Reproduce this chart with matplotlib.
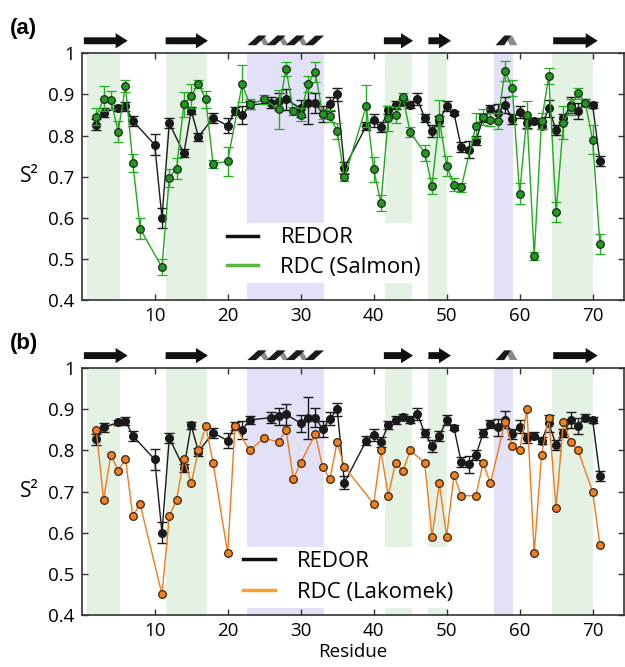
import matplotlib.pyplot as plt
import matplotlib.transforms as mtransforms
from matplotlib.patches import Polygon
from matplotlib.lines import Line2D
import numpy as np

plt.rcParams['font.family'] = ['Open Sans', 'DejaVu Sans']

# REDOR order parameters
redor_res = [2, 3, 5, 6, 7, 10, 11, 12, 14, 15, 16, 18, 20, 21, 22, 23, 26, 27, 28,
             30, 31, 32, 33, 34, 35, 36, 39, 40, 41, 42, 43, 44, 45, 46, 47, 48, 49,
             50, 51, 52, 53, 54, 55, 56, 57, 58, 59, 60, 61, 62, 63, 64, 65, 66, 67,
             68, 69, 70, 71]
redor_s2 = [0.827, 0.856, 0.868, 0.871, 0.836, 0.778, 0.600, 0.830, 0.757, 0.861,
            0.797, 0.843, 0.824, 0.860, 0.850, 0.874, 0.880, 0.883, 0.888, 0.866,
            0.879, 0.880, 0.852, 0.877, 0.900, 0.722, 0.824, 0.837, 0.820, 0.862,
            0.874, 0.882, 0.875, 0.889, 0.842, 0.811, 0.836, 0.873, 0.855, 0.772,
            0.766, 0.788, 0.842, 0.864, 0.856, 0.875, 0.840, 0.858, 0.830, 0.836,
            0.824, 0.866, 0.813, 0.842, 0.874, 0.860, 0.880, 0.874, 0.738]
redor_err = [0.013, 0.010, 0.007, 0.010, 0.012, 0.025, 0.025, 0.012, 0.010, 0.008,
             0.010, 0.012, 0.018, 0.010, 0.022, 0.010, 0.014, 0.020, 0.026, 0.020,
             0.050, 0.024, 0.020, 0.016, 0.016, 0.015, 0.010, 0.015, 0.012, 0.010,
             0.010, 0.006, 0.008, 0.015, 0.010, 0.015, 0.012, 0.012, 0.006, 0.012,
             0.020, 0.012, 0.010, 0.010, 0.020, 0.020, 0.012, 0.015, 0.012, 0.008,
             0.008, 0.020, 0.012, 0.010, 0.020, 0.020, 0.008, 0.008, 0.012]

# RDC (Salmon)
salmon_res = [2, 3, 4, 5, 6, 7, 8, 11, 12, 13, 14, 15, 16, 17, 18, 20, 22, 23, 25,
              27, 28, 29, 30, 31, 32, 33, 34, 35, 36, 39, 40, 41, 42, 43, 44, 45,
              47, 48, 49, 50, 51, 52, 54, 55, 56, 57, 58, 59, 60, 61, 62, 63, 64,
              65, 66, 67, 68, 69, 70, 71]
salmon_s2 = [0.846, 0.890, 0.886, 0.810, 0.920, 0.734, 0.574, 0.480, 0.698, 0.720,
             0.876, 0.896, 0.926, 0.888, 0.731, 0.738, 0.926, 0.876, 0.888, 0.864,
             0.962, 0.860, 0.851, 0.926, 0.955, 0.853, 0.848, 0.811, 0.699, 0.872,
             0.718, 0.636, 0.842, 0.850, 0.894, 0.808, 0.758, 0.678, 0.842, 0.726,
             0.681, 0.674, 0.824, 0.845, 0.839, 0.836, 0.957, 0.916, 0.659, 0.850,
             0.507, 0.835, 0.945, 0.614, 0.831, 0.870, 0.903, 0.880, 0.790, 0.536]
salmon_err = [0.020, 0.030, 0.022, 0.025, 0.015, 0.022, 0.025, 0.020, 0.022, 0.025,
              0.030, 0.030, 0.010, 0.020, 0.010, 0.035, 0.045, 0.012, 0.010, 0.048,
              0.018, 0.010, 0.015, 0.020, 0.025, 0.012, 0.015, 0.020, 0.010, 0.050,
              0.030, 0.020, 0.030, 0.020, 0.010, 0.012, 0.020, 0.020, 0.045, 0.025,
              0.015, 0.010, 0.030, 0.020, 0.015, 0.020, 0.025, 0.020, 0.025, 0.035,
              0.010, 0.020, 0.020, 0.025, 0.040, 0.020, 0.013, 0.010, 0.035, 0.025]

# RDC (Lakomek)
lakomek_res = [2, 3, 4, 5, 6, 7, 8, 11, 12, 13, 14, 15, 16, 17, 18, 20, 21, 23, 25,
               27, 28, 29, 30, 32, 33, 34, 35, 36, 40, 41, 42, 43, 44, 45, 47, 48,
               49, 50, 51, 52, 54, 55, 56, 58, 59, 60, 61, 62, 63, 64, 65, 66, 67,
               68, 70, 71]
lakomek_s2 = [0.85, 0.68, 0.79, 0.75, 0.78, 0.64, 0.67, 0.45, 0.64, 0.68, 0.78, 0.72,
              0.80, 0.86, 0.77, 0.55, 0.86, 0.80, 0.83, 0.82, 0.85, 0.73, 0.77, 0.84,
              0.76, 0.73, 0.82, 0.76, 0.67, 0.80, 0.69, 0.77, 0.75, 0.80, 0.77, 0.59,
              0.72, 0.59, 0.74, 0.69, 0.69, 0.77, 0.72, 0.87, 0.81, 0.80, 0.90, 0.55,
              0.79, 0.88, 0.66, 0.87, 0.82, 0.80, 0.70, 0.57]

# secondary structure (residue ranges)
strands = [(0.3, 6.3), (11.5, 17.3), (41.4, 45.4), (47.5, 50.6), (64.6, 70.7)]
helices = [(22.7, 33.2)]
turns = [(56.7, 59.7)]
green_bands = [(0.7, 5.3), (11.6, 17.2), (41.6, 45.2), (47.5, 50.1), (64.4, 70.0)]
blue_bands = [(22.7, 33.2), (56.5, 59.1)]


def draw_strand(ax, x0, x1):
    tr = mtransforms.blended_transform_factory(ax.transData, ax.transAxes)
    yc, bw, hw, hl = 1.051, 0.014, 0.031, 1.65
    pts = [(x0, yc - bw), (x1 - hl, yc - bw), (x1 - hl, yc - hw), (x1, yc),
           (x1 - hl, yc + hw), (x1 - hl, yc + bw), (x0, yc + bw)]
    ax.add_patch(Polygon(pts, closed=True, transform=tr, fc='#111111', ec='none',
                         clip_on=False))


def draw_helix(ax, x0, x1, n):
    tr = mtransforms.blended_transform_factory(ax.transData, ax.transAxes)
    yb, yt = 1.033, 1.072
    w = (x1 - x0) / n
    for i in range(n):
        s = x0 + i * w
        # gray back strand
        g = [(s + 0.55 * w, yt), (s + 0.85 * w, yt), (s + 1.15 * w, yb), (s + 0.85 * w, yb)]
        if i < n - 1:
            ax.add_patch(Polygon(g, closed=True, transform=tr, fc='#8a8a8a', ec='none',
                                 clip_on=False))
        b = [(s, yb), (s + 0.45 * w, yb), (s + w, yt), (s + 0.55 * w, yt)]
        ax.add_patch(Polygon(b, closed=True, transform=tr, fc='#1a1a1a', ec='none',
                             clip_on=False))


def draw_turn(ax, x0, x1):
    tr = mtransforms.blended_transform_factory(ax.transData, ax.transAxes)
    yb, yt = 1.033, 1.072
    w = x1 - x0
    g = [(x0 + 0.45 * w, yt), (x0 + 0.75 * w, yt), (x1, yb), (x0 + 0.65 * w, yb)]
    ax.add_patch(Polygon(g, closed=True, transform=tr, fc='#8a8a8a', ec='none',
                         clip_on=False))
    b = [(x0, yb), (x0 + 0.4 * w, yb), (x0 + 0.7 * w, yt), (x0 + 0.4 * w, yt)]
    ax.add_patch(Polygon(b, closed=True, transform=tr, fc='#1a1a1a', ec='none',
                         clip_on=False))


def setup(ax):
    for a, b in green_bands:
        ax.axvspan(a, b, color='#e3f2e3', lw=0, zorder=0)
    for a, b in blue_bands:
        ax.axvspan(a, b, color='#e2e1f7', lw=0, zorder=0)
    for a, b in strands:
        draw_strand(ax, a, b)
    for a, b in helices:
        draw_helix(ax, a, b, 4)
    for a, b in turns:
        draw_turn(ax, a, b)
    ax.set_xlim(0, 74.3)
    ax.set_ylim(0.4, 1.0)
    ax.set_xticks([10, 20, 30, 40, 50, 60, 70])
    ax.set_yticks([0.4, 0.5, 0.6, 0.7, 0.8, 0.9, 1.0])
    ax.set_yticklabels(['0.4', '0.5', '0.6', '0.7', '0.8', '0.9', '1'])
    ax.tick_params(direction='in', top=True, right=True, length=4, width=1,
                   labelsize=13.5, color='#333333', pad=5)
    for sp in ax.spines.values():
        sp.set_linewidth(1.2)
        sp.set_color('#333333')
    ax.set_ylabel('S²', fontsize=15, rotation=0, labelpad=14, va='center')


def plot_redor(ax):
    ax.errorbar(redor_res, redor_s2, yerr=redor_err, fmt='-o', color='#1a1a1a',
                ecolor='#1a1a1a', lw=1, elinewidth=1, capsize=3.5, capthick=1,
                ms=5.5, mfc='#1a1a1a', mec='#1a1a1a', zorder=3)


fig = plt.figure(figsize=(6.25, 6.67), dpi=100)
ax1 = fig.add_axes([0.1307, 0.550, 0.8677, 0.370])
ax2 = fig.add_axes([0.1307, 0.078, 0.8677, 0.370])

# (a)
setup(ax1)
plot_redor(ax1)
ax1.errorbar(salmon_res, salmon_s2, yerr=salmon_err, fmt='-o', color='#22a81e',
             ecolor='#22b01e', lw=1, elinewidth=1, capsize=3.5, capthick=1,
             ms=5.5, mfc='#1f9a1c', mec='#1c2a1c', mew=0.9, zorder=4)
h1 = [Line2D([], [], color='#111111', lw=2.5), Line2D([], [], color='#5cb83c', lw=2.5)]
ax1.legend(h1, ['REDOR', 'RDC (Salmon)'], loc='upper left', bbox_to_anchor=(0.26, 0.313),
           borderaxespad=0, frameon=True, facecolor='white', edgecolor='none',
           framealpha=1, fancybox=False, fontsize=16, handlelength=1.4,
           handletextpad=1.0, labelspacing=0.4, borderpad=0.2)
fig.text(0.016, 0.958, '(a)', fontsize=16, fontweight='bold', family='Liberation Sans',
         va='center')

# (b)
setup(ax2)
plot_redor(ax2)
ax2.plot(lakomek_res, lakomek_s2, '-o', color='#f07a1e', lw=1, ms=5.5,
         mfc='#f2801f', mec='#3a2410', mew=0.9, zorder=4)
h2 = [Line2D([], [], color='#111111', lw=2.5), Line2D([], [], color='#f5a030', lw=2.5)]
ax2.legend(h2, ['REDOR', 'RDC (Lakomek)'], loc='upper left', bbox_to_anchor=(0.29, 0.277),
           borderaxespad=0, frameon=True, facecolor='white', edgecolor='none',
           framealpha=1, fancybox=False, fontsize=16, handlelength=1.4,
           handletextpad=1.0, labelspacing=0.45, borderpad=0.2)
ax2.set_xlabel('Residue', fontsize=13.5, labelpad=2)
fig.text(0.016, 0.485, '(b)', fontsize=16, fontweight='bold', family='Liberation Sans',
         va='center')

fig.savefig('out.png', dpi=100)
